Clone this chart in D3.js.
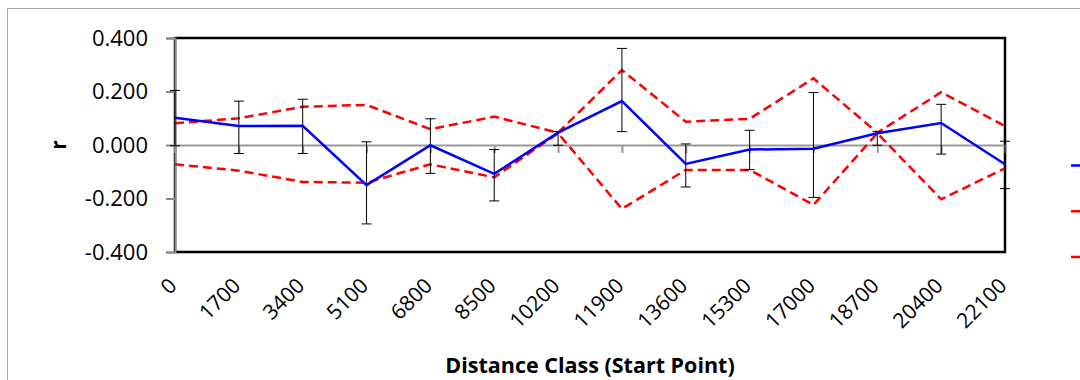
<!DOCTYPE html>
<html>
<head>
<meta charset="utf-8">
<script src="https://cdn.jsdelivr.net/npm/d3@7"></script>
<style>
  body { margin: 0; background: #fff; }
  svg { display: block; }
</style>
</head>
<body>
<svg id="chart" width="1080" height="380"></svg>
<script>
// distance classes (start point)
var distClass = ["0", "1700", "3400", "5100", "6800", "8500", "10200", "11900",
                 "13600", "15300", "17000", "18700", "20400", "22100"];
// autocorrelation r
var rVals  = [0.102, 0.071, 0.072, -0.150, -0.001, -0.108, 0.046, 0.164,
              -0.071, -0.017, -0.014, 0.044, 0.082, -0.072];
// bootstrap error bars
var errHi  = [0.204, 0.164, 0.171, 0.012, 0.098, -0.017, 0.050, 0.361,
              0.004, 0.055, 0.196, 0.050, 0.152, 0.014];
var errLo  = [-0.003, -0.032, -0.032, -0.295, -0.106, -0.209, -0.001, 0.050,
              -0.157, -0.092, -0.196, -0.001, -0.034, -0.163];
// permutation confidence limits
var upperU = [0.081, 0.100, 0.143, 0.150, 0.059, 0.106, 0.046, 0.280,
              0.087, 0.098, 0.249, 0.046, 0.197, 0.071];
var lowerL = [-0.072, -0.096, -0.138, -0.141, -0.072, -0.121, 0.044, -0.239,
              -0.093, -0.093, -0.224, 0.044, -0.203, -0.087];
var yTicks = [-0.4, -0.2, 0, 0.2, 0.4];
var legendNames = ["r", "U", "L"];   // legend labels fall outside the picture

var svg = d3.select("#chart");
var pLeft = 175, pRight = 1005, pTop = 38, pBottom = 252;

var x = d3.scalePoint().domain(distClass).range([pLeft, pRight]).padding(0);
var y = d3.scaleLinear().domain([-0.4, 0.4]).range([pBottom, pTop]);

// outer chart frame
svg.append("rect")
    .attr("x", 7.5).attr("y", 8.5)
    .attr("width", 1100).attr("height", 400)
    .attr("fill", "#fff").attr("stroke", "#a6a6a6").attr("stroke-width", 1);

// plot area border
svg.append("rect")
    .attr("x", pLeft).attr("y", pTop)
    .attr("width", pRight - pLeft).attr("height", pBottom - pTop)
    .attr("fill", "none").attr("stroke", "#000").attr("stroke-width", 2.5);

// y axis
var fmt = d3.format(".3f");
var yAxis = d3.axisLeft(y).tickValues(yTicks).tickSize(9)
    .tickFormat(function(d){ return fmt(d).replace("\u2212", "-"); });
var gy = svg.append("g").attr("transform", "translate(" + pLeft + ",0)").call(yAxis);
gy.select(".domain").attr("stroke", "#888").attr("stroke-width", 2);
gy.selectAll(".tick line").attr("stroke", "#888").attr("stroke-width", 2);
gy.selectAll(".tick text")
    .attr("x", -27)
    .attr("fill", "#000")
    .style("font-family", "'Open Sans', sans-serif")
    .style("font-size", "22px");

// x axis crossing at zero
var xAxis = d3.axisBottom(x).tickSize(8).tickFormat("");
var gx = svg.append("g").attr("transform", "translate(0," + y(0) + ")").call(xAxis);
gx.select(".domain").attr("stroke", "#999").attr("stroke-width", 2);
gx.selectAll(".tick line").attr("stroke", "#999").attr("stroke-width", 2);

// rotated category labels below the plot
svg.append("g").selectAll("text")
    .data(distClass)
    .enter()
    .append("text")
        .attr("transform", function(d){ return "translate(" + (x(d) + 3) + ",287) rotate(-45)"; })
        .attr("text-anchor", "end")
        .style("font-family", "'Open Sans', sans-serif")
        .style("font-size", "21px")
        .text(function(d){ return d; });

// axis titles
svg.append("text")
    .attr("x", (pLeft + pRight) / 2).attr("y", 373)
    .attr("text-anchor", "middle")
    .style("font-family", "'Open Sans', sans-serif")
    .style("font-weight", "bold")
    .style("font-size", "21.5px")
    .text("Distance Class (Start Point)");

svg.append("text")
    .attr("transform", "translate(66,145) rotate(-90)")
    .attr("text-anchor", "middle")
    .style("font-family", "'Open Sans', sans-serif")
    .style("font-weight", "bold")
    .style("font-size", "21px")
    .text("r");

// confidence limits
var line = d3.line()
    .x(function(d, i){ return x(distClass[i]); })
    .y(function(d){ return y(d); });

[upperU, lowerL].forEach(function(s){
    svg.append("path")
        .attr("d", line(s))
        .attr("fill", "none")
        .attr("stroke", "#ff0000")
        .attr("stroke-width", 2.5)
        .attr("stroke-dasharray", "9,5");
});

// error bars
var eb = svg.append("g").selectAll("g")
    .data(distClass)
    .enter()
    .append("g");
eb.append("line")
    .attr("x1", function(d){ return x(d); }).attr("x2", function(d){ return x(d); })
    .attr("y1", function(d, i){ return y(errHi[i]); })
    .attr("y2", function(d, i){ return y(errLo[i]); })
    .attr("stroke", "#000").attr("stroke-width", 1);
[errHi, errLo].forEach(function(arr){
    eb.append("line")
        .attr("x1", function(d){ return x(d) - 5; }).attr("x2", function(d){ return x(d) + 5; })
        .attr("y1", function(d, i){ return y(arr[i]); })
        .attr("y2", function(d, i){ return y(arr[i]); })
        .attr("stroke", "#000").attr("stroke-width", 1);
});

// r line
svg.append("path")
    .attr("d", line(rVals))
    .attr("fill", "none")
    .attr("stroke", "#0000ff")
    .attr("stroke-width", 2.5);

// legend keys (only their left ends are inside the picture)
var lg = svg.append("g").selectAll("g")
    .data(legendNames)
    .enter()
    .append("g")
        .attr("transform", function(d, i){ return "translate(1071," + (165.5 + i * 45.7) + ")"; });
lg.append("line")
    .attr("x1", 0).attr("x2", 30)
    .attr("stroke", function(d, i){ return i == 0 ? "#0000ff" : "#ff0000"; })
    .attr("stroke-width", 2.5)
    .attr("stroke-dasharray", function(d, i){ return i == 0 ? null : "9,5"; });
</script>
</body>
</html>
